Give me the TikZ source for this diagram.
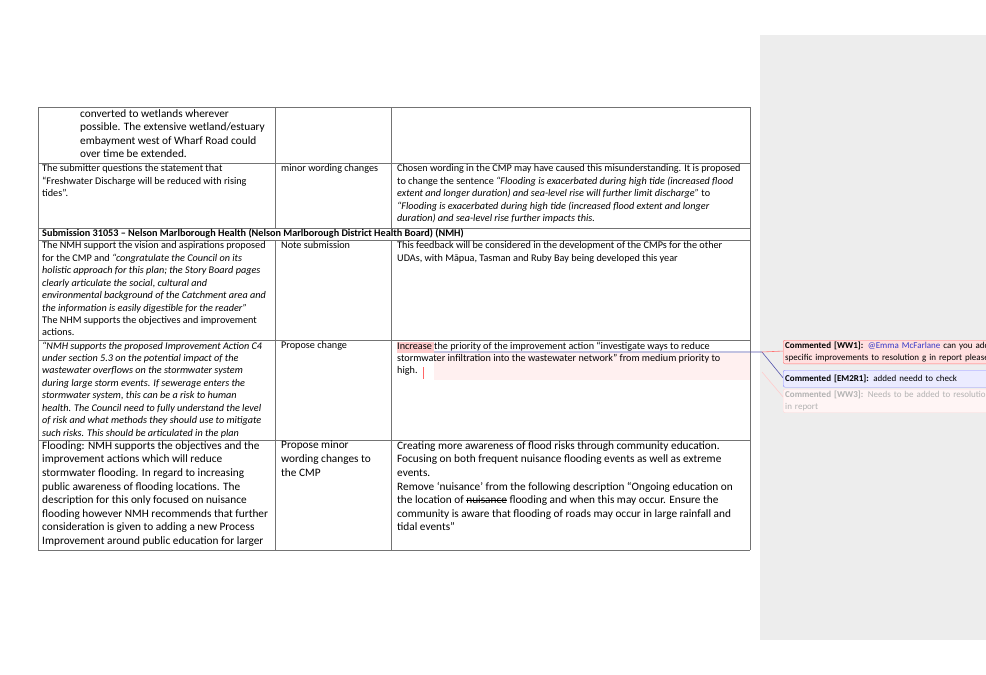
\documentclass[tikz,border=0pt]{standalone}
\usepackage{fontspec}
\setmainfont{Carlito}
\usepackage{calc}
\newcommand{\strk}[1]{\leavevmode\rlap{\raisebox{0.55ex}{\rule{\widthof{#1}}{0.5pt}}}#1}
\begin{document}
\begin{tikzpicture}[x=1pt,y=-1pt,
  cell/.style={anchor=north west,inner sep=0pt,align=left},
  sm/.style={cell,font=\fontsize{10.2}{12.45}\selectfont},
  lg/.style={cell,font=\fontsize{11.3}{13.65}\selectfont},
  grid/.style={draw=black!55,line width=0.6pt},
  cbox/.style={anchor=north west,inner sep=2pt,align=left,text width=226pt,font=\fontsize{9}{11.5}\selectfont,minimum height=18pt}]
\useasboundingbox (0,0) rectangle (986,675);
\fill[white] (0,0) rectangle (986,675);
\fill[black!7] (760,35) coordinate (p1) rectangle (986,640);
% table grid
\foreach \y in {107,163,228,240,340,440,550} \draw[grid] (38,\y) -- (750,\y);
\draw[grid] (38,107) -- (38,550);
\draw[grid] (750,107) -- (750,550);
\foreach \y/\z in {107/228,240/550} {\draw[grid] (275,\y) -- (275,\z); \draw[grid] (391,\y) -- (391,\z);}
% highlight
\fill[red!20] (397,342) rectangle (434,353);
\fill[red!6] (434,353) rectangle (750,380);
\draw[red!60,line width=0.8pt] (423,367) -- (423,379);
% row 1
\node[lg] (r1a) at (80,109) {converted to wetlands wherever\\possible. The extensive wetland/estuary\\embayment west of Wharf Road could\\over time be extended.};
% row 2
\node[sm] (r2a) at (42,164.5) {The submitter questions the statement that\\``Freshwater Discharge will be reduced with rising\\tides''.};
\node[sm] (r2b) at (281,164.5) {minor wording changes};
\node[sm] (r2c) at (397,164.5) {Chosen wording in the CMP may have caused this misunderstanding. It is proposed\\to change the sentence \textit{``Flooding is exacerbated during high tide (increased flood}\\\textit{extent and longer duration) and sea-level rise will further limit discharge''} to\\\textit{``Flooding is exacerbated during high tide (increased flood extent and longer}\\\textit{duration) and sea-level rise further impacts this.}};
% header
\node[sm,font=\fontsize{10.2}{12.4}\selectfont\bfseries] (hd) at (42,228.3) {Submission 31053 – Nelson Marlborough Health (Nelson Marlborough District Health Board) (NMH)};
% row 4
\node[sm] (r4a) at (42,241.5) {The NMH support the vision and aspirations proposed\\for the CMP and \textit{``congratulate the Council on its}\\\textit{holistic approach for this plan; the Story Board pages}\\\textit{clearly articulate the social, cultural and}\\\textit{environmental background of the Catchment area and}\\\textit{the information is easily digestible for the reader''}\\The NHM supports the objectives and improvement\\actions.};
\node[sm] (r4b) at (281,241.5) {Note submission};
\node[sm] (r4c) at (397,241.5) {This feedback will be considered in the development of the CMPs for the other\\UDAs, with Māpua, Tasman and Ruby Bay being developed this year};
% row 5
\node[sm,font=\fontsize{10.2}{12.45}\selectfont\itshape] (r5a) at (42,341.5) {``NMH supports the proposed Improvement Action C4\\under section 5.3 on the potential impact of the\\wastewater overflows on the stormwater system\\during large storm events. If sewerage enters the\\stormwater system, this can be a risk to human\\health. The Council need to fully understand the level\\of risk and what methods they should use to mitigate\\such risks. This should be articulated in the plan};
\node[sm] (r5b) at (281,341.5) {Propose change};
\node[sm] (r5c) at (397,341.5) {Increase the priority of the improvement action ``investigate ways to reduce\\stormwater infiltration into the wastewater network'' from medium priority to\\high.};
% row 6
\node[lg] (r6a) at (42,441) {Flooding: NMH supports the objectives and the\\improvement actions which will reduce\\stormwater flooding. In regard to increasing\\public awareness of flooding locations. The\\description for this only focused on nuisance\\flooding however NMH recommends that further\\consideration is given to adding a new Process\\Improvement around public education for larger};
\node[lg] (r6b) at (281,441) {Propose minor\\wording changes to\\the CMP};
\node[lg] (r6c) at (397,441) {Creating more awareness of flood risks through community education.\\Focusing on both frequent nuisance flooding events as well as extreme\\events.\\Remove ‘nuisance’ from the following description ``Ongoing education on\\the location of \strk{nuisance} flooding and when this may occur. Ensure the\\community is aware that flooding of roads may occur in large rainfall and\\tidal events''};
% comments
\coordinate (a1) at (434,352);
\coordinate (k) at (762,352);
\draw[blue!35!gray,line width=0.6pt] (a1) -- (k) -- (784,379);
\draw[red!55,line width=0.6pt] (k) -- (784,351);
\draw[red!20,line width=0.6pt] (762,372) -- (784,398);
\begin{scope}
\clip (760,0) rectangle (986,675);
\node[cbox,draw=red!55,fill=red!12,rounded corners=2pt] (c1) at (783,340) {\textbf{Commented [WW1]:} {\color{blue!55!gray}@Emma McFarlane} can you add\\specific improvements to resolution g in report please};
\node[cbox,draw=blue!45,fill=blue!8,rounded corners=2pt,minimum height=17pt] (c2) at (783,370) {\textbf{Commented [EM2R1]:} added needd to check};
\node[cbox,draw=red!15,fill=red!4,rounded corners=2pt,text=black!30] (c3) at (783,389) {\textbf{Commented [WW3]:} Needs to be added to resolution\\in report};
\end{scope}
\end{tikzpicture}
\end{document}
